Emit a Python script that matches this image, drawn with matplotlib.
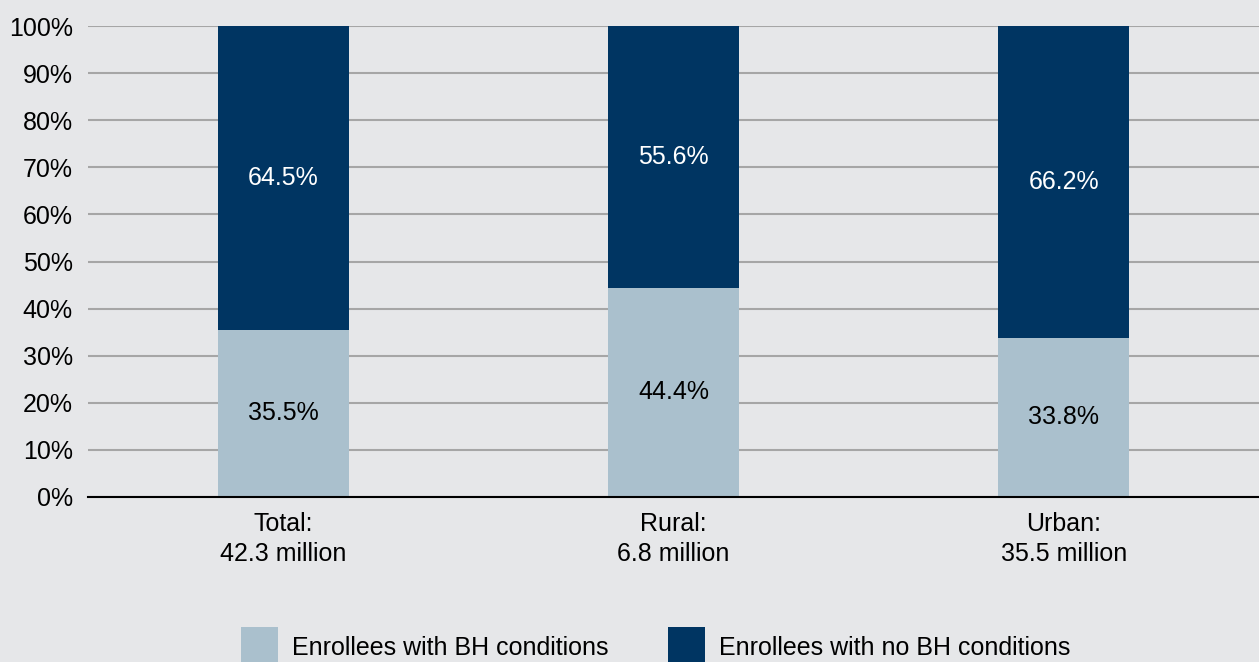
import matplotlib.pyplot as plt
from matplotlib.patches import Patch
import numpy as np

plt.rcParams['font.family'] = ['Liberation Sans', 'DejaVu Sans']

categories = ['Total:\n42.3 million', 'Rural:\n6.8 million', 'Urban:\n35.5 million']
with_bh = [35.5, 44.4, 33.8]
without_bh = [64.5, 55.6, 66.2]
series_names = ['Enrollees with BH conditions', 'Enrollees with no BH conditions']

bg = '#E6E7E9'
light = '#AAC0CD'
dark = '#003562'
fs = 18

fig = plt.figure(figsize=(12.59, 6.62), dpi=100, facecolor=bg)
ax = fig.add_axes([88 / 1259, 1 - 497 / 662, 1 - 88 / 1259, 471 / 662])
ax.set_facecolor(bg)

x = np.arange(len(categories))
w = 0.336
ax.bar(x, with_bh, w, color=light, zorder=3)
ax.bar(x, without_bh, w, bottom=with_bh, color=dark, zorder=3)

for i in range(len(x)):
    ax.text(x[i], with_bh[i] / 2, '%.1f%%' % with_bh[i], ha='center', va='center',
            fontsize=fs, color='black', zorder=4)
    ax.text(x[i], with_bh[i] + without_bh[i] / 2, '%.1f%%' % without_bh[i], ha='center',
            va='center', fontsize=fs, color='white', zorder=4)

ax.set_xlim(-0.5, 2.5)
ax.set_ylim(0, 100)
ax.set_yticks(np.arange(0, 101, 10))
ax.set_yticklabels(['%d%%' % v for v in range(0, 101, 10)], fontsize=fs)
ax.set_xticks(x)
ax.set_xticklabels(categories, fontsize=fs, linespacing=1.32)
ax.tick_params(axis='both', length=0)
ax.tick_params(axis='x', pad=11)
ax.tick_params(axis='y', pad=11)

ax.yaxis.grid(True, color='#A6A6A6', linewidth=1.5, zorder=0)
for s in ['top', 'right', 'left']:
    ax.spines[s].set_visible(False)
ax.spines['bottom'].set_color('black')
ax.spines['bottom'].set_linewidth(1.5)
ax.spines['bottom'].set_zorder(5)

handles = [Patch(facecolor=light), Patch(facecolor=dark)]
fig.legend(handles, series_names, loc='upper left', bbox_to_anchor=(241 / 1259, 1 - 627 / 662),
           ncol=2, frameon=False, fontsize=fs, handlelength=1.48, handleheight=2.1,
           columnspacing=2.4, handletextpad=0.55, borderpad=0, borderaxespad=0)

plt.savefig('out.png', dpi=100, facecolor=bg)
